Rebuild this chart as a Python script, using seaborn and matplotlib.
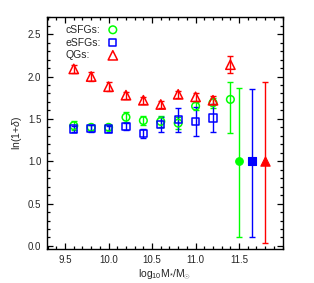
import numpy as np
import pandas as pd
import matplotlib
matplotlib.use("Agg")
import matplotlib.pyplot as plt
from matplotlib.ticker import MultipleLocator
import seaborn as sns

# stellar mass bins
mass = [9.6, 9.8, 10.0, 10.2, 10.4, 10.6, 10.8, 11.0, 11.2, 11.4]

# compact star-forming galaxies
csfg_val = [1.42, 1.40, 1.40, 1.52, 1.48, 1.47, 1.45, 1.65, 1.69, 1.73]
csfg_lo = [0.05, 0.03, 0.03, 0.06, 0.05, 0.06, 0.07, 0.05, 0.06, 0.40]
csfg_hi = [0.05, 0.03, 0.03, 0.06, 0.05, 0.06, 0.07, 0.05, 0.06, 0.21]

# extended star-forming galaxies (no 11.4 bin)
esfg_mass = mass[:9]
esfg_val = [1.38, 1.39, 1.38, 1.41, 1.33, 1.43, 1.49, 1.47, 1.51]
esfg_err = [0.04, 0.04, 0.04, 0.04, 0.05, 0.09, 0.14, 0.17, 0.16]

# quiescent galaxies
qg_val = [2.09, 2.00, 1.88, 1.78, 1.72, 1.67, 1.79, 1.76, 1.72, 2.14]
qg_err = [0.05, 0.05, 0.05, 0.04, 0.04, 0.04, 0.04, 0.05, 0.05, 0.10]

# typical error bars shown at the right
typ_mass = [11.5, 11.65, 11.8]
typ_val = [1.0, 1.0, 1.0]
typ_lo = [0.90, 0.89, 0.97]
typ_hi = [0.86, 0.85, 0.93]

GREEN, BLUE, RED = "#00ff00", "#0000ff", "#ff0000"

sns.set_style("ticks")
plt.rcParams["font.family"] = ["Liberation Sans", "DejaVu Sans"]
plt.rcParams["mathtext.fontset"] = "custom"
plt.rcParams["mathtext.rm"] = "Liberation Sans"
plt.rcParams["mathtext.it"] = "Liberation Sans:italic"

fig = plt.figure(figsize=(3.14, 2.83), dpi=100)
ax = fig.add_axes([0.149, 0.119, 0.751, 0.820])

bar_kw = dict(fmt="none", elinewidth=1.0, capsize=2.2, capthick=1.0)
ax.errorbar(mass, csfg_val, yerr=[csfg_lo, csfg_hi], ecolor=GREEN, **bar_kw)
ax.errorbar(esfg_mass, esfg_val, yerr=esfg_err, ecolor=BLUE, **bar_kw)
ax.errorbar(mass, qg_val, yerr=qg_err, ecolor=RED, **bar_kw)
for xm, ym, lo, hi, c in zip(typ_mass, typ_val, typ_lo, typ_hi, [GREEN, BLUE, RED]):
    ax.errorbar([xm], [ym], yerr=[[lo], [hi]], ecolor=c, **bar_kw)

df_c = pd.DataFrame({"mass": mass, "val": csfg_val})
df_e = pd.DataFrame({"mass": esfg_mass, "val": esfg_val})
df_q = pd.DataFrame({"mass": mass, "val": qg_val})
open_kw = dict(facecolor="none", linewidth=1.1, legend=False, zorder=3)
sns.scatterplot(data=df_c, x="mass", y="val", marker="o", s=30, edgecolor=GREEN, ax=ax, **open_kw)
sns.scatterplot(data=df_e, x="mass", y="val", marker="s", s=28, edgecolor=BLUE, ax=ax, **open_kw)
sns.scatterplot(data=df_q, x="mass", y="val", marker="^", s=45, edgecolor=RED, ax=ax, **open_kw)

df_t = pd.DataFrame({"mass": typ_mass, "val": typ_val})
for i, (m, c, sz) in enumerate(zip(["o", "s", "^"], [GREEN, BLUE, RED], [30, 28, 45])):
    sns.scatterplot(data=df_t.iloc[[i]], x="mass", y="val", marker=m, s=sz,
                    color=c, edgecolor=c, linewidth=0.8, legend=False, zorder=3, ax=ax)

# legend in IDL style: label then symbol
labels = ["cSFGs:", "eSFGs:", "QGs:"]
for i, (lab, m, c, sz) in enumerate(zip(labels, ["o", "s", "^"], [GREEN, BLUE, RED], [30, 28, 45])):
    yy = 0.946 - i * 0.055
    ax.text(0.078, yy, lab, transform=ax.transAxes, fontsize=7.5, va="center", ha="left")
    ax.scatter([0.28], [yy], transform=ax.transAxes, marker=m, s=sz,
               facecolor="none", edgecolor=c, linewidth=1.1)

ax.set_xlim(9.29, 12.0)
ax.set_ylim(-0.04, 2.7)
ax.xaxis.set_major_locator(MultipleLocator(0.5))
ax.xaxis.set_minor_locator(MultipleLocator(0.1))
ax.yaxis.set_major_locator(MultipleLocator(0.5))
ax.yaxis.set_minor_locator(MultipleLocator(0.1))
ax.set_xticks([9.5, 10.0, 10.5, 11.0, 11.5])
ax.set_xticklabels(["9.5", "10.0", "10.5", "11.0", "11.5"])
ax.tick_params(which="both", direction="in", top=True, right=True, labelsize=7, width=0.9, color="black")
ax.tick_params(which="major", length=4.5, pad=4)
ax.tick_params(which="minor", length=2.2)
for sp in ax.spines.values():
    sp.set_linewidth(1.0)
    sp.set_color("black")

ax.set_xlabel(r"log$_{10}$M$_{*}$/M$_{\odot}$", fontsize=7.5, labelpad=2)
ax.set_ylabel(r"ln(1+$\delta$)", fontsize=7.5, labelpad=3)

fig.savefig("out.png", dpi=100)
